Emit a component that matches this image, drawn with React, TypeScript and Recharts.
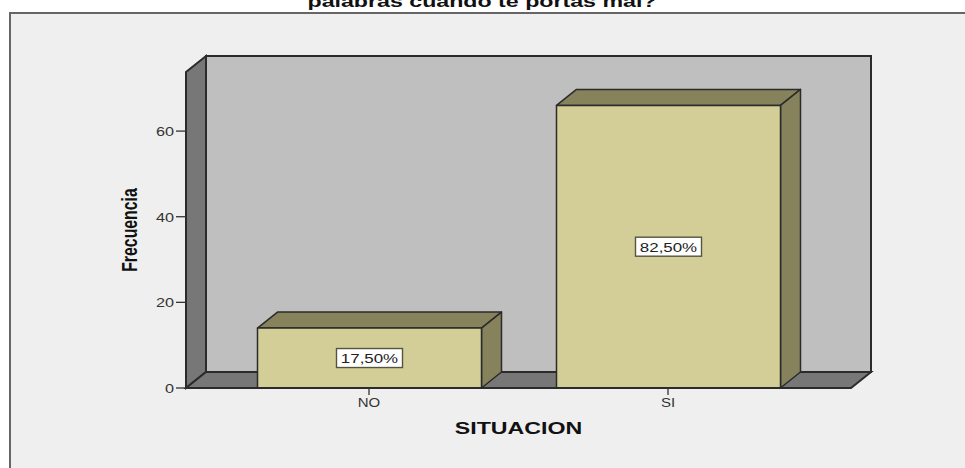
import { Bar, BarChart, LabelList, XAxis, YAxis, usePlotArea } from 'recharts';

const categories = ['NO', 'SI'];
const frequencies = [14, 66];
const percentLabels = ['17,50%', '82,50%'];
const yTicks = [0, 20, 40, 60];

const chartData = categories.map((name, i) => ({
  name,
  value: frequencies[i],
  percent: percentLabels[i],
}));

// depth of the fake 3D box
const DX = 20;
const DY = 16;
const EDGE = '#2b2b2b';
const FONT = 'Liberation Sans';

// the source picture is stretched sideways, so text gets a scale too
function WideText({ x, y, sx, size, bold, anchor, color, children }: any) {
  return (
    <text
      transform={`translate(${x},${y}) scale(${sx},1)`}
      textAnchor={anchor}
      fontSize={size}
      fontWeight={bold ? 700 : 400}
      fontFamily={FONT}
      fill={color}
    >
      {children}
    </text>
  );
}

function Walls() {
  const plot = usePlotArea();
  if (!plot) return null;
  const { x, y, width, height } = plot;
  const bottom = y + height;
  const right = x + width;
  return (
    <g stroke={EDGE} strokeWidth={2}>
      <rect x={x + DX} y={y - DY} width={width} height={height} fill="#bfbfbf" />
      <polygon
        points={`${x},${y} ${x + DX},${y - DY} ${x + DX},${bottom - DY} ${x},${bottom}`}
        fill="#777777"
      />
      <polygon
        points={`${x},${bottom} ${x + DX},${bottom - DY} ${right + DX},${bottom - DY} ${right},${bottom}`}
        fill="#777777"
      />
    </g>
  );
}

function Box3D(props: any) {
  const { x, y, width, height } = props;
  const r = x + width;
  const b = y + height;
  return (
    <g stroke={EDGE} strokeWidth={1.5} strokeLinejoin="round">
      <polygon points={`${x},${y} ${x + DX},${y - DY} ${r + DX},${y - DY} ${r},${y}`} fill="#85825c" />
      <polygon points={`${r},${y} ${r + DX},${y - DY} ${r + DX},${b - DY} ${r},${b}`} fill="#85825c" />
      <rect x={x} y={y} width={width} height={height} fill="#d3ce97" />
    </g>
  );
}

function PercentBox(props: any) {
  const { x, y, width, height, value } = props;
  const cx = x + width / 2;
  const cy = y + height / 2;
  return (
    <g>
      <rect x={cx - 33} y={cy - 9.5} width={66} height={19} fill="#ffffff" stroke="#55553f" strokeWidth={1.4} />
      <WideText x={cx} y={cy + 5} sx={1.3} size={13} anchor="middle" color="#222222">
        {value}
      </WideText>
    </g>
  );
}

function XTick({ x, y, payload }: any) {
  return (
    <WideText x={x} y={y + 10} sx={1.2} size={12.5} anchor="middle" color="#333333">
      {payload.value}
    </WideText>
  );
}

function YTick({ x, y, payload }: any) {
  return (
    <WideText x={x} y={y + 5} sx={1.3} size={12.5} anchor="end" color="#333333">
      {payload.value}
    </WideText>
  );
}

function XTitle({ viewBox }: any) {
  return (
    <WideText x={viewBox.x + viewBox.width / 2} y={viewBox.y + 46} sx={1.45} size={16} bold anchor="middle" color="#111111">
      SITUACION
    </WideText>
  );
}

function YTitle({ viewBox }: any) {
  return (
    <text
      transform={`translate(137,${viewBox.y + viewBox.height / 2}) rotate(-90) scale(0.72,1)`}
      textAnchor="middle"
      fontSize={22}
      fontWeight={700}
      fontFamily={FONT}
      fill="#111111"
    >
      Frecuencia
    </text>
  );
}

export default function App() {
  return (
    <div style={{ position: 'absolute', left: 0, top: 0, width: 965, height: 468, background: '#ffffff', overflow: 'hidden' }}>
      <div style={{ position: 'absolute', left: 9, top: 12, width: 970, height: 470, background: '#efefef', border: '2px solid #666666', boxSizing: 'border-box' }} />
      <svg width={965} height={12} style={{ position: 'absolute', left: 0, top: 0 }}>
        <WideText x={482} y={7} sx={1.45} size={16} bold anchor="middle" color="#111111">
          palabras cuando te portas mal?
        </WideText>
      </svg>
      <div style={{ position: 'absolute', left: 0, top: 0 }}>
        <BarChart
          width={965}
          height={468}
          data={chartData}
          margin={{ top: 72, right: 114, bottom: 0, left: 0 }}
        >
          <Walls />
          <XAxis
            dataKey="name"
            padding={{ left: 33.5, right: 33.5 }}
            axisLine={{ stroke: EDGE, strokeWidth: 2 }}
            tickLine={{ stroke: '#333333', strokeWidth: 1.3 }}
            tickSize={7}
            height={80}
            tick={XTick}
            label={XTitle}
          />
          <YAxis
            domain={[0, 73.8]}
            ticks={yTicks}
            width={186}
            axisLine={{ stroke: EDGE, strokeWidth: 2 }}
            tickLine={{ stroke: '#333333', strokeWidth: 1.3 }}
            tickSize={10}
            tick={YTick}
            label={YTitle}
          />
          <Bar dataKey="value" barSize={224} shape={Box3D} isAnimationActive={false}>
            <LabelList dataKey="percent" content={PercentBox} />
          </Bar>
        </BarChart>
      </div>
    </div>
  );
}
